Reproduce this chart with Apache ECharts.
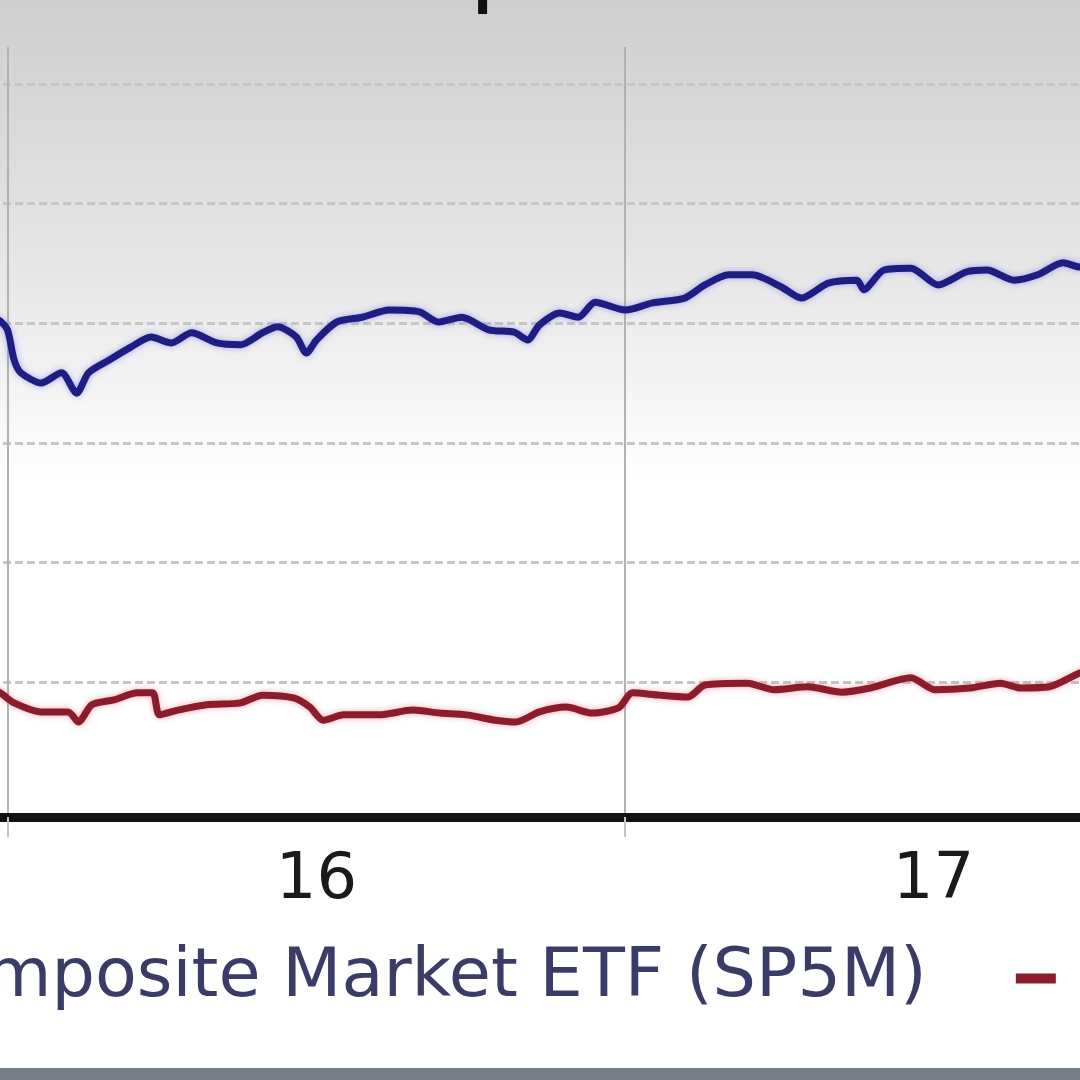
<!DOCTYPE html>
<html>
<head>
<meta charset="utf-8">
<script src="https://cdn.jsdelivr.net/npm/echarts@6/dist/echarts.min.js"></script>
<style>
  html, body { margin: 0; padding: 0; background: #767d85; overflow: hidden; width: 1080px; height: 1080px; }
  #main { position: absolute; left: -609px; top: 0; width: 2600px; height: 1068px; }
</style>
</head>
<body>
<div id="main"></div>
<script>
// ---- data ----
const yearLabels = ['15', '16', '17'];

const seriesNames = ['Composite Market ETF (SP5M)', 'Industry Benchmark'];

const blueDates = ['2015-12-18','2015-12-27','2016-01-01','2016-01-05','2016-01-09','2016-01-21','2016-02-02','2016-02-11','2016-02-18','2016-03-01','2016-03-14','2016-03-26','2016-04-07','2016-04-19','2016-05-04','2016-05-18','2016-05-31','2016-06-09','2016-06-20','2016-06-26','2016-07-02','2016-07-14','2016-07-29','2016-08-14','2016-09-01','2016-09-12','2016-09-26','2016-10-12','2016-10-27','2016-11-04','2016-11-11','2016-11-23','2016-12-04','2016-12-14','2017-01-01','2017-01-17','2017-02-05','2017-02-17','2017-03-03','2017-03-17','2017-04-03','2017-04-15','2017-05-01','2017-05-18','2017-05-22','2017-06-03','2017-06-19','2017-07-05','2017-07-22','2017-08-03','2017-08-19','2017-09-02','2017-09-17','2017-09-27','2017-10-06'];
const blueValues = [16.12,16.05,15.89,15.38,15.17,15.00,15.17,14.83,15.17,15.38,15.60,15.77,15.67,15.84,15.67,15.64,15.84,15.94,15.77,15.50,15.72,16.02,16.10,16.22,16.19,16.02,16.10,15.89,15.85,15.72,15.97,16.17,16.10,16.35,16.22,16.34,16.42,16.64,16.81,16.81,16.61,16.42,16.67,16.72,16.56,16.89,16.92,16.64,16.86,16.89,16.72,16.81,17.01,16.94,17.02];

const redDates = ['2015-12-18','2015-12-27','2016-01-05','2016-01-21','2016-02-06','2016-02-12','2016-02-20','2016-03-04','2016-03-18','2016-03-27','2016-03-31','2016-04-11','2016-04-28','2016-05-18','2016-05-31','2016-06-19','2016-06-28','2016-07-06','2016-07-18','2016-08-08','2016-08-28','2016-09-13','2016-09-29','2016-10-16','2016-10-28','2016-11-11','2016-11-27','2016-12-12','2016-12-28','2017-01-05','2017-01-21','2017-02-07','2017-02-17','2017-03-14','2017-03-30','2017-04-19','2017-05-09','2017-05-26','2017-06-19','2017-07-03','2017-07-24','2017-08-11','2017-08-23','2017-09-09','2017-09-27','2017-10-06'];
const redValues = [9.90,9.83,9.65,9.50,9.50,9.33,9.62,9.70,9.82,9.82,9.45,9.53,9.62,9.65,9.78,9.73,9.58,9.36,9.45,9.45,9.53,9.48,9.45,9.36,9.33,9.50,9.58,9.48,9.57,9.82,9.78,9.75,9.95,9.98,9.87,9.92,9.83,9.90,10.07,9.87,9.90,9.98,9.90,9.92,10.15,10.20];

const gridTicks = { min: 10, max: 20, step: 2 };
const valueRange = { min: 7.742, max: 20.619 };
const dateRange = { min: '2015-01-01', max: '2018-01-01' };

// ---- chart ----
const chart = echarts.init(document.getElementById('main'), null, { renderer: 'canvas' });

const zip = (d, v) => d.map((x, i) => [x, v[i]]);

const option = {
  animation: false,
  backgroundColor: {
    type: 'linear', x: 0, y: 0, x2: 0, y2: 1,
    colorStops: [
      { offset: 0, color: '#cfcfcf' },
      { offset: 0.1, color: '#d8d8d8' },
      { offset: 0.25, color: '#e6e6e6' },
      { offset: 0.45, color: '#ffffff' },
      { offset: 1, color: '#ffffff' }
    ]
  },
  graphic: [{
    type: 'text',
    left: 1078, top: -83,
    style: { text: 'p', font: '100px "DejaVu Sans"', fill: '#111' },
    silent: true
  }],
  legend: {
    left: 434, top: 939,
    orient: 'horizontal',
    icon: 'rect', itemWidth: 40, itemHeight: 10, itemGap: 89,
    textStyle: { fontSize: 68.5, fontFamily: 'DejaVu Sans', color: '#3b3b68', padding: [0, 0, 0, 20] },
    data: seriesNames
  },
  grid: [
    { left: 0, right: 749, top: 47, bottom: 251 },
    { left: 0, right: 749, top: 84, bottom: 386 }
  ],
  xAxis: [
    {
      type: 'category', gridIndex: 0, data: yearLabels, boundaryGap: true,
      axisLine: { show: true, lineStyle: { color: '#111', width: 9 } },
      axisTick: { show: true, length: 20, lineStyle: { color: '#c4c4c4', width: 2 } },
      axisLabel: { fontSize: 64, fontFamily: 'DejaVu Sans', color: '#1a1a1a', margin: 32 },
      splitLine: { show: true, lineStyle: { color: '#b2b2b2', width: 2 } }
    },
    { type: 'time', gridIndex: 0, min: dateRange.min, max: dateRange.max, show: false },
    { type: 'value', gridIndex: 1, show: false }
  ],
  yAxis: [
    { type: 'value', gridIndex: 0, min: valueRange.min, max: valueRange.max, show: false, splitLine: { show: false } },
    {
      type: 'value', gridIndex: 1, min: gridTicks.min, max: gridTicks.max, interval: gridTicks.step,
      axisLine: { show: false }, axisTick: { show: false }, axisLabel: { show: false },
      splitLine: { show: true, lineStyle: { color: '#c6c6c6', width: 3, type: [8, 4] } }
    }
  ],
  series: [
    {
      name: seriesNames[0], type: 'line', xAxisIndex: 1, yAxisIndex: 0,
      data: zip(blueDates, blueValues), showSymbol: false, smooth: 0.25,
      itemStyle: { color: '#1e1e82' },
      lineStyle: { color: '#1e1e82', width: 7, shadowBlur: 6, shadowColor: 'rgba(120,120,230,0.6)' },
      z: 3
    },
    {
      name: seriesNames[1], type: 'line', xAxisIndex: 1, yAxisIndex: 0,
      data: zip(redDates, redValues), showSymbol: false, smooth: 0.25,
      itemStyle: { color: '#8c1c2c' },
      lineStyle: { color: '#8c1c2c', width: 7, shadowBlur: 6, shadowColor: 'rgba(230,120,140,0.6)' },
      z: 3
    }
  ]
};
chart.setOption(option);
</script>
</body>
</html>
